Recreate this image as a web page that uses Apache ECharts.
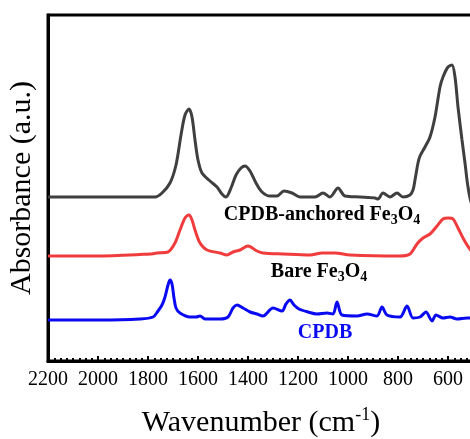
<!DOCTYPE html>
<html>
<head>
<meta charset="utf-8">
<script src="https://cdn.jsdelivr.net/npm/echarts@6/dist/echarts.min.js"></script>
<style>html,body{margin:0;padding:0;background:#fff}#c{width:470px;height:439px}</style>
</head>
<body>
<div id="c"></div>
<script>
// Wavenumbers (cm-1) and absorbance (a.u., stacked offsets)
const wnAnchored = [2200,1992,1772,1744,1712,1688,1668,1652,1636,1624,1612,1600,1584,1552,1524,1504,1488,1468,1448,1428,1412,1392,1368,1344,1312,1284,1256,1224,1192,1132,1100,1072,1040,1012,952,892,880,860,832,804,780,752,740,732,720,712,692,672,652,632,620,600,584,572,560,544,532,520,504,472];
const absAnchored = [1.64,1.64,1.64,1.68,1.78,1.96,2.26,2.46,2.52,2.44,2.21,2.01,1.88,1.80,1.74,1.67,1.64,1.73,1.86,1.93,1.95,1.90,1.78,1.69,1.65,1.65,1.70,1.68,1.64,1.64,1.68,1.64,1.73,1.65,1.64,1.63,1.62,1.68,1.64,1.68,1.64,1.66,1.71,1.81,1.98,2.05,2.14,2.24,2.44,2.74,2.84,2.94,2.96,2.84,2.54,2.21,1.98,1.74,1.56,1.46];

const wnBare = [2200,1992,1792,1764,1720,1692,1672,1652,1636,1624,1612,1592,1564,1512,1484,1460,1432,1400,1364,1340,1260,1152,1104,1052,992,792,752,724,700,672,644,620,600,580,560,540,516,492];
const absBare = [1.05,1.05,1.07,1.08,1.09,1.18,1.31,1.43,1.46,1.41,1.31,1.18,1.11,1.08,1.06,1.09,1.11,1.15,1.10,1.08,1.07,1.06,1.08,1.08,1.06,1.05,1.07,1.17,1.23,1.27,1.35,1.42,1.43,1.42,1.33,1.23,1.13,1.06];

const wnCPDB = [2200,1992,1832,1780,1760,1744,1732,1720,1712,1704,1696,1688,1672,1632,1608,1592,1572,1512,1480,1460,1444,1420,1392,1364,1340,1300,1264,1248,1232,1216,1196,1160,1124,1084,1060,1044,1024,964,924,884,864,844,792,764,740,712,688,664,648,620,592,564,524,492];
const absCPDB = [0.41,0.41,0.42,0.44,0.50,0.56,0.64,0.76,0.81,0.77,0.63,0.53,0.48,0.44,0.44,0.45,0.42,0.42,0.44,0.53,0.56,0.53,0.49,0.47,0.45,0.53,0.50,0.57,0.61,0.56,0.52,0.49,0.47,0.48,0.47,0.59,0.46,0.45,0.47,0.45,0.54,0.46,0.44,0.55,0.43,0.44,0.49,0.40,0.46,0.43,0.44,0.42,0.43,0.43];

const xTicks = [2200,2000,1800,1600,1400,1200,1000,800,600,400];
const seriesNames = ['CPDB-anchored Fe3O4','Bare Fe3O4','CPDB'];
const colors = ['#3f3f3f','#f03c3c','#0a0af2'];

const zip = (a,b) => a.map((v,i)=>[v,b[i]]);
const serif = "'Liberation Serif','Times New Roman',serif";

const chart = echarts.init(document.getElementById('c'), null, {renderer:'canvas'});

function subRich(color){
  return {
    n:{fontFamily:serif,fontWeight:'bold',fontSize:20,color:color,lineHeight:24},
    s:{fontFamily:serif,fontWeight:'bold',fontSize:14,color:color,lineHeight:14,padding:[10,0,0,0]}
  };
}

chart.setOption({
  animation:false,
  backgroundColor:'#fff',
  grid:{left:48,top:15,width:450,height:346,show:true,borderColor:'#000',borderWidth:3,backgroundColor:'transparent',
    containLabel:false,outerBoundsMode:'none'},
  xAxis:{
    type:'value',inverse:true,min:xTicks[xTicks.length-1],max:xTicks[0],interval:200,
    axisLine:{show:true,onZero:false,lineStyle:{color:'#000',width:3}},
    axisTick:{show:true,inside:true,length:5,lineStyle:{color:'#000',width:2}},
    minorTick:{show:true,splitNumber:8,length:3,lineStyle:{color:'#000',width:2}},
    splitLine:{show:false},
    axisLabel:{color:'#000',fontFamily:serif,fontSize:20,margin:9,
      formatter:v=>xTicks.includes(v)?String(v):''}
  },
  yAxis:{
    type:'value',min:0,max:3.46,
    axisLine:{show:true,onZero:false,lineStyle:{color:'#000',width:3}},
    axisTick:{show:false},axisLabel:{show:false},splitLine:{show:false}
  },
  series:[
    {name:seriesNames[0],type:'line',data:zip(wnAnchored,absAnchored),showSymbol:false,smooth:0.3,lineStyle:{color:colors[0],width:3},z:3},
    {name:seriesNames[1],type:'line',data:zip(wnBare,absBare),showSymbol:false,smooth:0.3,lineStyle:{color:colors[1],width:3},z:3},
    {name:seriesNames[2],type:'line',data:zip(wnCPDB,absCPDB),showSymbol:false,smooth:0.3,lineStyle:{color:colors[2],width:3},z:3}
  ],
  graphic:[
    {type:'text',x:22,y:188,rotation:Math.PI/2,z:10,
      style:{text:'Absorbance (a.u.)',fontFamily:serif,fontSize:30,fill:'#000',align:'center',verticalAlign:'middle'}},
    {type:'text',x:261,y:423,z:10,
      style:{text:'{n|Wavenumber (cm}{p|-1}{n|)}',align:'center',verticalAlign:'middle',
        rich:{n:{fontFamily:serif,fontSize:30,color:'#000',lineHeight:34},
              p:{fontFamily:serif,fontSize:18,color:'#000',lineHeight:18,padding:[0,0,16,0]}}}},
    {type:'text',x:322,y:215,z:10,
      style:{text:'{n|CPDB-anchored Fe}{s|3}{n|O}{s|4}',align:'center',verticalAlign:'middle',rich:subRich(colors[0])}},
    {type:'text',x:319,y:272,z:10,
      style:{text:'{n|Bare Fe}{s|3}{n|O}{s|4}',align:'center',verticalAlign:'middle',rich:subRich(colors[1])}},
    {type:'text',x:325,y:333,z:10,
      style:{text:'CPDB',fontFamily:serif,fontWeight:'bold',fontSize:20,fill:colors[2],align:'center',verticalAlign:'middle'}}
  ]
});
</script>
</body>
</html>
